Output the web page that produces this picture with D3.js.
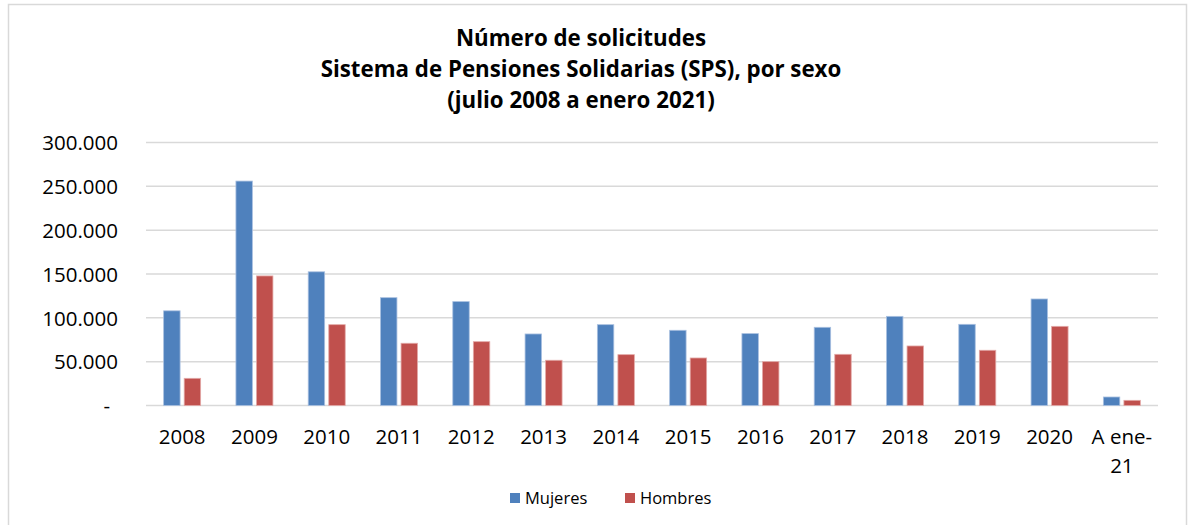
<!DOCTYPE html>
<html>
<head>
  <meta charset="utf-8">
  <script src="https://cdn.jsdelivr.net/npm/d3@7"></script>
  <style>
    body { margin: 0; background: #fff; }
    text { font-family: "Open Sans", Lato, sans-serif; fill: #000; }
  </style>
</head>
<body>
<script>
var years = ["2008", "2009", "2010", "2011", "2012", "2013", "2014", "2015", "2016", "2017", "2018", "2019", "2020", "A ene-21"];
var mujeres = [108000, 256000, 152500, 123000, 118500, 81600, 92200, 85800, 82000, 89200, 101700, 92600, 121500, 9700];
var hombres = [31000, 147800, 92200, 71000, 72800, 51600, 58000, 54200, 50000, 58400, 67900, 63000, 90300, 5900];
var series = ["Mujeres", "Hombres"];
var colors = ["#4F81BD", "#C0504D"];
var yTicks = [0, 50000, 100000, 150000, 200000, 250000, 300000];
var titleLines = ["Número de solicitudes", "Sistema de Pensiones Solidarias (SPS), por sexo", "(julio 2008 a enero 2021)"];

var W = 1189, H = 525;
var svg = d3.select("body").append("svg")
    .attr("width", W)
    .attr("height", H);

// chart frame
svg.append("rect")
    .attr("x", 8.5).attr("y", 4.5)
    .attr("width", 1178).attr("height", 530)
    .attr("fill", "#fff")
    .attr("stroke", "#d9d9d9")
    .attr("stroke-width", 1.5);

var x = d3.scaleBand().domain(years).range([146, 1158]);
var xs = d3.scaleBand().domain(series)
    .range([(x.bandwidth() - 37) / 2, (x.bandwidth() + 37) / 2])
    .paddingInner(0.2);
var y = d3.scaleLinear().domain([0, 300000]).range([405.5, 142.5]);

// gridlines
svg.append("g").selectAll("line")
    .data(yTicks)
    .enter().append("line")
    .attr("x1", 146).attr("x2", 1158)
    .attr("y1", function(d) { return y(d); })
    .attr("y2", function(d) { return y(d); })
    .attr("stroke", "#d9d9d9")
    .attr("stroke-width", 1.5);

// y axis labels
var yAxis = d3.axisLeft(y)
    .tickValues(yTicks)
    .tickSize(0)
    .tickPadding(0)
    .tickFormat(function(d) {
      return d === 0 ? "-" : d3.format(",")(d).replace(/,/g, ".");
    });
var ya = svg.append("g")
    .attr("transform", "translate(118,0)")
    .call(yAxis);
ya.select(".domain").remove();
ya.selectAll("text")
    .style("font-size", "20.5px")
    .style("font-family", "'Open Sans', Lato, sans-serif")
    .attr("fill", "#000")
    .attr("dy", "0.35em");
ya.selectAll(".tick").filter(function(d) { return d === 0; }).select("text")
    .attr("x", -8);

// bars
var groups = svg.append("g").selectAll("g")
    .data(years)
    .enter().append("g")
    .attr("transform", function(d) { return "translate(" + x(d) + ",0)"; });

groups.selectAll("rect")
    .data(function(d, i) { return [mujeres[i], hombres[i]]; })
    .enter().append("rect")
    .attr("x", function(d, j) { return xs(series[j]); })
    .attr("width", xs.bandwidth())
    .attr("y", function(d) { return y(d); })
    .attr("height", function(d) { return y(0) - y(d); })
    .attr("fill", function(d, j) { return colors[j]; })
    .attr("stroke", function(d, j) { return j === 0 ? "#a9c0e0" : "#e3a9a7"; })
    .attr("stroke-width", 0.8);

// x axis labels
var xa = svg.append("g");
xa.selectAll("text")
    .data(years)
    .enter().append("text")
    .attr("x", function(d) { return x(d) + x.bandwidth() / 2; })
    .attr("y", 444)
    .attr("text-anchor", "middle")
    .style("font-size", "20.5px")
    .each(function(d) {
      var t = d3.select(this);
      if (d === "A ene-21") {
        t.append("tspan").attr("x", x(d) + x.bandwidth() / 2).text("A ene-");
        t.append("tspan").attr("x", x(d) + x.bandwidth() / 2).attr("dy", 29).text("21");
      } else {
        t.text(d);
      }
    });

// title
svg.append("g").selectAll("text")
    .data(titleLines)
    .enter().append("text")
    .attr("x", 581)
    .attr("y", function(d, i) { return 46 + i * 31; })
    .attr("text-anchor", "middle")
    .style("font-size", "22.3px")
    .style("font-weight", "bold")
    .text(function(d) { return d; });

// legend
var legend = svg.append("g").selectAll("g")
    .data(series)
    .enter().append("g")
    .attr("transform", function(d, i) { return "translate(" + (510 + i * 115) + ",493)"; });
legend.append("rect")
    .attr("width", 10).attr("height", 10)
    .attr("fill", function(d, i) { return colors[i]; });
legend.append("text")
    .attr("x", 15).attr("y", 11)
    .style("font-size", "16.5px")
    .text(function(d) { return d; });
</script>
</body>
</html>
